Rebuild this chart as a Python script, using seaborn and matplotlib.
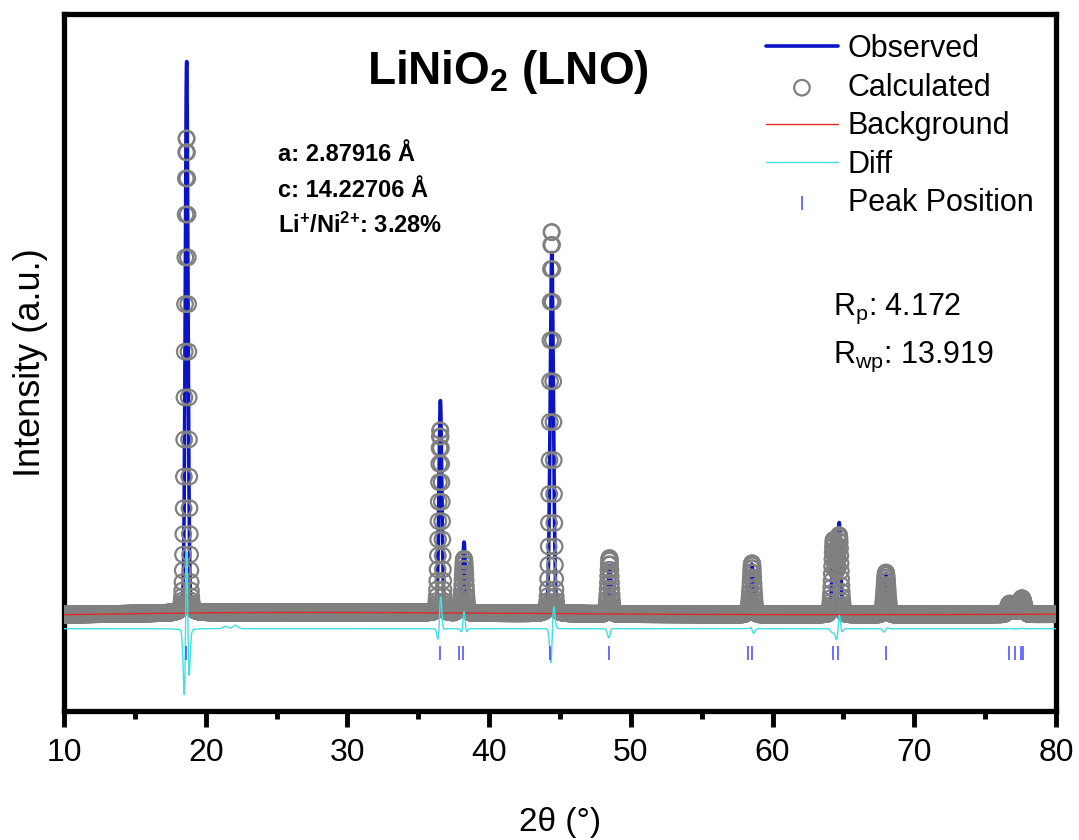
import numpy as np
import pandas as pd
import matplotlib
matplotlib.use("Agg")
import matplotlib.pyplot as plt
from matplotlib.ticker import MultipleLocator
import seaborn as sns

# ---------------- data ----------------
# sampling grid of the pattern (2theta, step 0.02 deg)
two_theta = np.round(10 + 0.02 * np.arange(3501), 2)

# background
bg_x = [10, 15, 20, 25, 30, 35, 40, 50, 60, 70, 80]
bg_y = [995, 1005, 1015, 1018, 1018, 1015, 1010, 1000, 995, 995, 1000]

# calculated reflections: position, net height, FWHM
calc_pos = [18.65, 36.55, 37.85, 38.23, 44.41, 48.49, 58.27, 58.55, 64.31, 64.69, 68.00, 76.73, 77.15, 77.56, 77.68]
calc_height = [4919, 1892, 50, 560, 3958, 580, 30, 530, 760, 810, 436, 110, 30, 120, 60]
calc_fwhm = [0.28, 0.26, 0.26, 0.26, 0.26, 0.24, 0.26, 0.26, 0.28, 0.28, 0.28, 0.32, 0.32, 0.32, 0.32]

# observed reflections: position, net height, FWHM
obs_pos = [18.655, 36.56, 37.85, 38.23, 44.422, 48.50, 58.27, 58.54, 64.31, 64.70, 68.01, 76.73, 77.15, 77.56, 77.68, 21.40, 22.10]
obs_height = [5704, 2192, 50, 735, 3731, 500, 30, 520, 720, 942, 430, 112, 30, 125, 60, 25, 35]
obs_fwhm = [0.224, 0.24, 0.26, 0.22, 0.27, 0.24, 0.26, 0.25, 0.27, 0.24, 0.27, 0.31, 0.32, 0.31, 0.32, 0.4, 0.4]

peak_eta = 0.1          # Lorentzian fraction of the profile
diff_offset = 850       # vertical offset of the difference curve

# Bragg positions (tick marks)
hkl_pos = [18.62, 36.52, 37.84, 38.17, 44.32, 48.49, 58.27, 58.56, 64.24, 64.64, 67.99, 76.71, 77.13, 77.54, 77.68]
hkl_level = 600

# texts
title_txt = "LiNiO$_\\mathbf{2}$ (LNO)"
lattice_txt = ["a: 2.87916 Å", "c: 14.22706 Å",
               "Li$^{\\mathbf{+}}$/Ni$^{\\mathbf{2}{\\mathbf{+}}}$: 3.28%"]
r_txt = ["R$_\\mathrm{p}$: 4.172", "R$_\\mathrm{wp}$: 13.919"]


def pseudo_voigt(x, pos, h, fwhm, eta):
    s = fwhm / 2.3548
    d = x - pos
    g = np.exp(-d ** 2 / (2 * s ** 2))
    lo = 1.0 / (1.0 + (2 * d / fwhm) ** 2)
    return h * ((1 - eta) * g + eta * lo)


background = np.interp(two_theta, bg_x, bg_y)
calc = background.copy()
for p, h, w in zip(calc_pos, calc_height, calc_fwhm):
    calc += pseudo_voigt(two_theta, p, h, w, peak_eta)
obs = background.copy()
for p, h, w in zip(obs_pos, obs_height, obs_fwhm):
    obs += pseudo_voigt(two_theta, p, h, w, peak_eta)
diff = obs - calc + diff_offset

df = pd.DataFrame({"two_theta": two_theta, "obs": obs, "calc": calc,
                   "bg": background, "diff": diff})
ticks_df = pd.DataFrame({"pos": hkl_pos, "lvl": [hkl_level] * len(hkl_pos)})

# ---------------- plotting ----------------
sns.set_theme(style="ticks")
plt.rcParams["font.family"] = ["Liberation Sans", "DejaVu Sans"]
plt.rcParams["mathtext.fontset"] = "custom"
plt.rcParams["mathtext.rm"] = "Liberation Sans"
plt.rcParams["mathtext.it"] = "Liberation Sans:italic"
plt.rcParams["mathtext.bf"] = "Liberation Sans:bold"
plt.rcParams["text.color"] = "black"
plt.rcParams["axes.labelcolor"] = "black"
plt.rcParams["xtick.color"] = "black"
plt.rcParams["xtick.labelcolor"] = "black"

fig = plt.figure(figsize=(10.79, 8.4), dpi=100)
ax = fig.add_axes([0.0593, 0.1536, 0.9194, 0.8298])

sns.lineplot(data=df, x="two_theta", y="obs", color="#0a14c4", lw=2.6,
             label="Observed", ax=ax, estimator=None, sort=False, zorder=2)
sns.scatterplot(data=df, x="two_theta", y="calc", marker="o", s=125,
                facecolors="none", edgecolor="#808080", linewidth=1.6,
                label="Calculated", ax=ax, zorder=3)
sns.lineplot(data=df, x="two_theta", y="bg", color="#e02828", lw=1.0,
             label="Background", ax=ax, estimator=None, sort=False, zorder=4)
sns.lineplot(data=df, x="two_theta", y="diff", color="#40e0e0", lw=1.0,
             label="Diff", ax=ax, estimator=None, sort=False, zorder=5)
sns.scatterplot(data=ticks_df, x="pos", y="lvl", marker="|", s=110,
                color="#4646ff", linewidth=1.1, label="Peak Position", ax=ax, zorder=5)

ax.set_xlim(10, 80)
ax.set_ylim(0, 7200)
ax.set_xticks(range(10, 81, 10))
ax.xaxis.set_minor_locator(MultipleLocator(5))
ax.set_yticks([])
ax.tick_params(axis="x", which="major", direction="out", length=11.5, width=3.5,
               labelsize=23, pad=8, top=False, bottom=True, color="black",
               labelcolor="black")
ax.tick_params(axis="x", which="minor", direction="out", length=5.5, width=3.5,
               top=False, bottom=True, color="black")
for sp in ax.spines.values():
    sp.set_linewidth(3.8)
    sp.set_color("black")

ax.set_xlabel("2θ (°)", fontsize=24, color="black")
ax.set_ylabel("Intensity (a.u.)", fontsize=26, color="black")
ax.xaxis.set_label_coords(0.5, -0.138)
ax.yaxis.set_label_coords(-0.016, 0.5)

ax.text(0.447, 0.917, title_txt, transform=ax.transAxes, ha="center", va="center",
        fontsize=33, fontweight="bold", color="black")
for y, t in zip([0.789, 0.7375, 0.686], lattice_txt):
    ax.text(0.2157, y, t, transform=ax.transAxes, ha="left", va="baseline",
            fontsize=17, fontweight="bold", color="black")
for y, t in zip([0.568, 0.499], r_txt):
    ax.text(0.775, y, t, transform=ax.transAxes, ha="left", va="baseline",
            fontsize=22, color="black")

handles, labels = ax.get_legend_handles_labels()
leg = ax.legend(handles, labels, loc="upper left", bbox_to_anchor=(0.7077, 0.971),
                frameon=False, fontsize=22, handlelength=2.35, handletextpad=0.33,
                labelspacing=0.28, borderpad=0, borderaxespad=0)
for t in leg.get_texts():
    t.set_color("black")

fig.savefig("out.png", dpi=100)
